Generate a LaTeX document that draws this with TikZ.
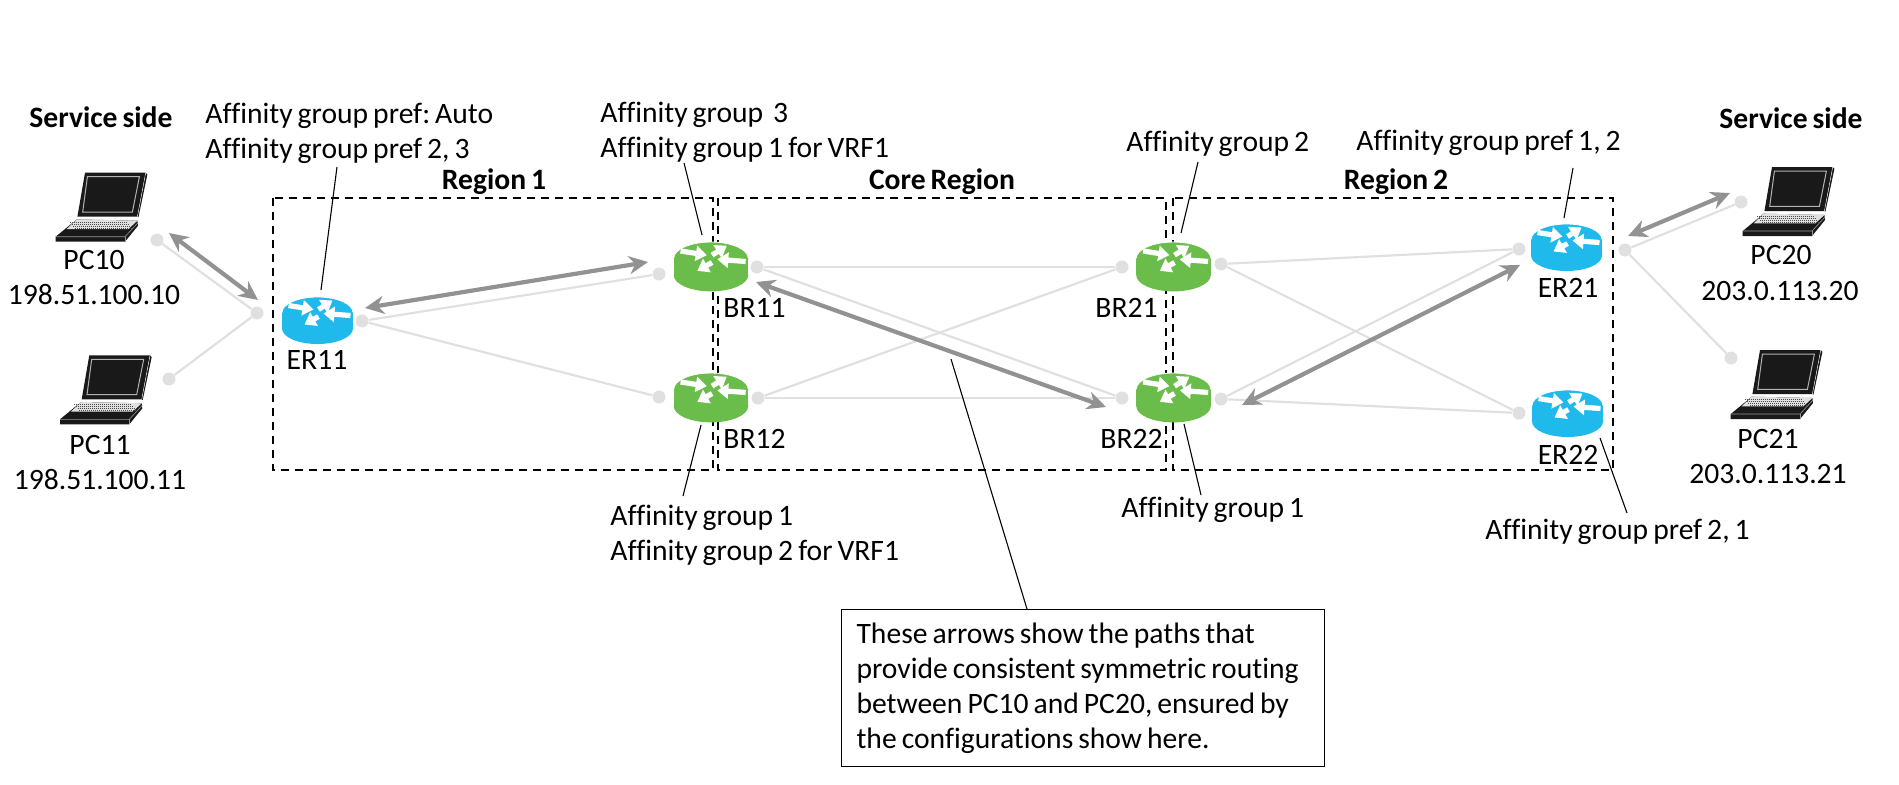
\documentclass[tikz,border=0pt]{standalone}
\usepackage{fontspec}
\setmainfont[WordSpace=.75,Ligatures=NoCommon]{Carlito}
\usepackage{tikz}
\usetikzlibrary{arrows.meta}
\definecolor{erblue}{RGB}{32,185,236}
\definecolor{brgreen}{RGB}{106,189,75}
\definecolor{linkgray}{RGB}{224,224,224}
\definecolor{pathgray}{RGB}{146,146,146}
\frenchspacing
\tikzset{
	lbl/.style={font=\fontsize{14.8}{17.5}\selectfont, inner sep=0pt, anchor=base},
	lblw/.style={lbl, anchor=base west},
	head/.style={lbl, font=\fontsize{14.8}{17.5}\selectfont\bfseries},
	regionbox/.style={draw, line width=.9pt, dash pattern=on 4.2pt off 2.8pt},
	dot/.style={circle, fill=linkgray, inner sep=0pt, minimum size=6.5pt},
	link/.style={linkgray, line width=1.1pt},
	pathline/.style={pathgray, line width=2.1pt, {Stealth[length=9.5pt,width=9pt]}-{Stealth[length=9.5pt,width=9pt]}},
	leader/.style={line width=.55pt},
	router/.pic={
		\fill[#1] (-35.5,0) rectangle (35.5,16);
		\fill[#1] (0,16) ellipse [x radius=35.5, y radius=15.5];
		\fill[#1] (0,0) ellipse [x radius=35.5, y radius=15.5];
		\draw[white, line width=.4pt] (-35.5,0) arc [start angle=180, end angle=360, x radius=35.5, y radius=15.5];
		\foreach \ax/\ay/\bx/\by in {-29/-7/-4/-3, 1/-3/15/-12, 33/3/6/1, 1/4/-13/12}{
			\draw[white, line width=2.6pt, -{Triangle[length=5.5pt,width=7.5pt]}] (\ax,\ay) -- (\bx,\by);
		}
	},
	laptop/.pic={
		\fill[black!90] (29.3,-69) -- (90,-69) -- (81.7,-25) -- (21.7,-25) -- cycle;
		\fill[black!90] (90,-69) -- (91.7,-67.3) -- (82.7,-24.3) -- (81.7,-25) -- cycle;
		\draw[white, line width=.2pt] (90,-69) -- (81.7,-25);
		\draw[black!30, line width=.5pt] (31.7,-65) -- (83.7,-65) -- (76.7,-29.7) -- (27,-29.7) -- cycle;
		\fill[black!90] (21,-22.3) -- (81.7,-21) -- (82.3,-16) -- (69.3,0) -- (0,0) -- (0,-5) -- cycle;
		\fill[black!12] (21,-22.3) -- (81.7,-21) -- (72.7,-12.7) -- (11,-12.7) -- cycle;
		\foreach \k in {-20,-18,-16,-14}{
			\draw[black!70, line width=.2pt, dash pattern=on .5pt off .5pt] (\k*.9+32,\k) -- (\k*.9+90,\k);
		}
		\draw[black!40, line width=.3pt] (0,-5) -- (69.3,-5) -- (82.3,-19);
		\draw[black!40, line width=.3pt] (69.3,-5) -- (69.3,0);
	},
}
\begin{document}
\begin{tikzpicture}[x=.5pt, y=-.5pt]
	\useasboundingbox (0,0) rectangle (1899,784);

	% regions
	\draw[regionbox] (273,198) rectangle (713,470);
	\draw[regionbox] (718,198) rectangle (1166,470);
	\draw[regionbox] (1173,198) rectangle (1613,470);
	\node[head] (r1) at (494,189) {Region 1};
	\node[head] (rc) at (942,189) {Core Region};
	\node[head] (r2) at (1396,189) {Region 2};

	% connection points
	\foreach \n/\x/\y in {pc10d/157/240, pc11d/169/379, hubl/257/313, er11d/362/321, br11l/659/274, br12l/659/397, br11r/757/267, br12r/758/398, br21l/1122/267, br22l/1122/398, br21r/1221/264, br22r/1221/399, er21l/1519/249, er22l/1519/413, hubr/1625/250, pc20d/1741/202, pc21d/1731/358}{
		\node[dot] (\n) at (\x,\y) {};
	}
	\foreach \a/\b in {pc10d/hubl, pc11d/hubl, er11d/br11l, er11d/br12l, br11r/br21l, br11r/br22l, br12r/br21l, br12r/br22l, br21r/er21l, br21r/er22l, br22r/er21l, br22r/er22l, hubr/pc20d, hubr/pc21d}{
		\draw[link] (\a) -- (\b);
	}

	% routers
	\pic at (317.5,312.5) {router=erblue};
	\pic[scale=1.05] at (711,258.3) {router=brgreen};
	\pic[scale=1.05] at (711,389.3) {router=brgreen};
	\pic[scale=1.05] at (1173.5,258.3) {router=brgreen};
	\pic[scale=1.05] at (1173.5,389.3) {router=brgreen};
	\pic at (1566.5,239.5) {router=erblue};
	\pic at (1567.5,405.5) {router=erblue};

	% hosts
	\pic at (55.7,241.7) {laptop};
	\pic at (60,424.3) {laptop};
	\pic at (1742.7,236) {laptop};
	\pic at (1730.7,419) {laptop};

	% symmetric paths
	\coordinate (p1a) at (169,233); \coordinate (p1b) at (258,300);
	\coordinate (p2a) at (365,308); \coordinate (p2b) at (648,262);
	\coordinate (p3a) at (756,282); \coordinate (p3b) at (1106,407);
	\coordinate (p4a) at (1242,405); \coordinate (p4b) at (1520,265);
	\coordinate (p5a) at (1628,236); \coordinate (p5b) at (1730,193);
	\foreach \i in {1,...,5}{
		\draw[pathline] (p\i a) -- (p\i b);
	}

	% labels
	\node[head] (ssl) at (101,127) {Service side};
	\node[head] (ssr) at (1791,128) {Service side};
	\node[lbl] (pc10) at (94,269) {PC10};
	\node[lbl] (pc10ip) at (94,304) {198.51.100.10};
	\node[lbl] (pc11) at (100,454) {PC11};
	\node[lbl] (pc11ip) at (100,489) {198.51.100.11};
	\node[lbl] (pc20) at (1781,264) {PC20};
	\node[lbl] (pc20ip) at (1780,300) {203.0.113.20};
	\node[lbl] (pc21) at (1768,448) {PC21};
	\node[lbl] (pc21ip) at (1768,483) {203.0.113.21};
	\node[lbl] (er11) at (317,369) {ER11};
	\node[lblw] (br11) at (723,317) {BR11};
	\node[lblw] (br12) at (723,448) {BR12};
	\node[lblw] (br21) at (1095,317) {BR21};
	\node[lblw] (br22) at (1100,448) {BR22};
	\node[lbl] (er21) at (1568,297) {ER21};
	\node[lbl] (er22) at (1568,464) {ER22};

	\node[lblw] (a11a) at (205,123) {Affinity group pref: Auto};
	\node[lblw] (a11b) at (205,158) {Affinity group pref 2, 3};
	\node[lblw] (a21a) at (600,122) {Affinity group\ \ 3};
	\node[lblw] (a21b) at (600,157) {Affinity group 1 for VRF1};
	\node[lblw] (a12a) at (610,525) {Affinity group 1};
	\node[lblw] (a12b) at (610,560) {Affinity group 2 for VRF1};
	\node[lblw] (a21) at (1126,151) {Affinity group 2};
	\node[lblw] (a22) at (1121,517) {Affinity group 1};
	\node[lblw] (ae21) at (1356,150) {Affinity group pref 1, 2};
	\node[lblw] (ae22) at (1485,539) {Affinity group pref 2, 1};

	\node[draw, line width=.55pt, anchor=north west, minimum width=241.5pt, minimum height=78.5pt, inner xsep=7.5pt, inner ysep=0pt, text width=226.5pt, align=flush left, font=\fontsize{14.8}{17.5}\selectfont] (note) at (841,609)
		{These arrows show the paths that\\provide consistent symmetric routing\\between PC10 and PC20, ensured by\\the configurations show here.};

	% leaders
	\coordinate (l1a) at (337,167); \coordinate (l1b) at (321,290);
	\coordinate (l2a) at (684,163); \coordinate (l2b) at (702,235);
	\coordinate (l3a) at (701,425); \coordinate (l3b) at (683,496);
	\coordinate (l4a) at (1198,162); \coordinate (l4b) at (1181,233);
	\coordinate (l5a) at (1184,424); \coordinate (l5b) at (1201,495);
	\coordinate (l6a) at (1573,168); \coordinate (l6b) at (1564,218);
	\coordinate (l7a) at (1600,438); \coordinate (l7b) at (1627,513);
	\coordinate (l8a) at (951,359); \coordinate (l8b) at (1027,609);
	\foreach \i in {1,...,8}{
		\draw[leader] (l\i a) -- (l\i b);
	}
\end{tikzpicture}
\end{document}
